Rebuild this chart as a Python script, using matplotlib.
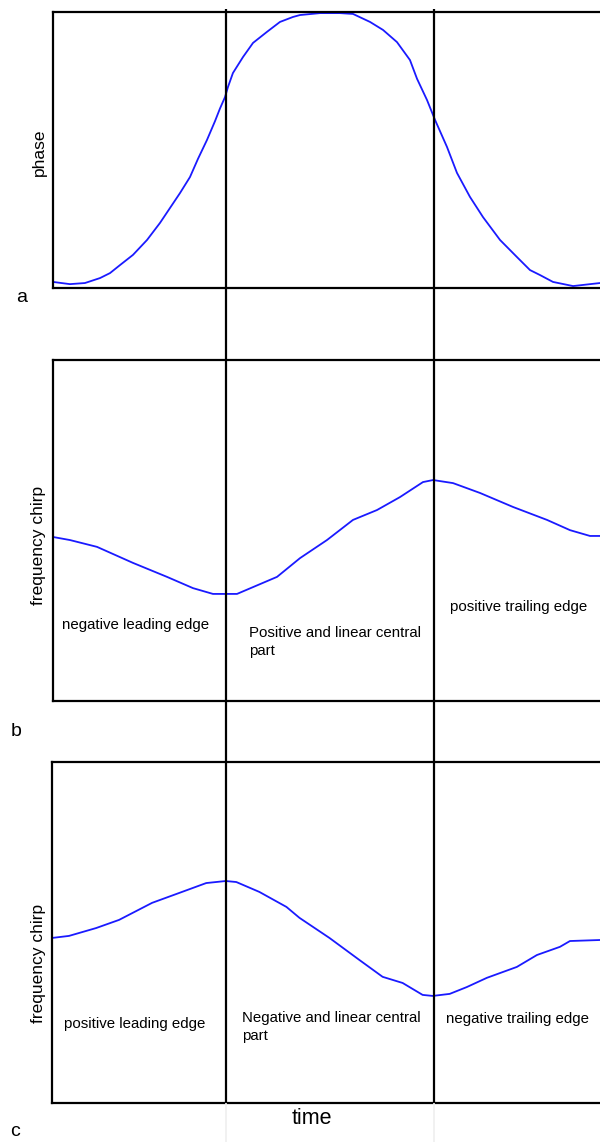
import numpy as np
import matplotlib
matplotlib.use("Agg")
import matplotlib.pyplot as plt

plt.rcParams['font.family'] = ['Liberation Sans', 'DejaVu Sans']

# time axis: pulse edges at -1 and +1
EDGES = [-1.0, 1.0]
XLIM = (-2.668, 2.668)

# (a) phase
t_phase = [-2.668, -2.505, -2.361, -2.216, -2.120, -2.024, -1.899, -1.764, -1.639, -1.543,
           -1.447, -1.351, -1.274, -1.188, -1.111, -1.063, -1.014, -0.986, -0.938, -0.841,
           -0.745, -0.611, -0.486, -0.361, -0.293, -0.101, 0.091, 0.216, 0.380, 0.505,
           0.639, 0.764, 0.832, 0.928, 1.005, 1.120, 1.216, 1.341, 1.466, 1.630,
           1.793, 1.918, 2.014, 2.139, 2.332, 2.591]
phase = [0.022, 0.014, 0.018, 0.036, 0.054, 0.083, 0.120, 0.174, 0.236, 0.290,
         0.344, 0.402, 0.468, 0.536, 0.604, 0.650, 0.692, 0.728, 0.779, 0.837,
         0.888, 0.928, 0.964, 0.982, 0.989, 0.996, 0.996, 0.993, 0.964, 0.935,
         0.891, 0.826, 0.758, 0.681, 0.609, 0.511, 0.417, 0.330, 0.257, 0.174,
         0.112, 0.065, 0.047, 0.022, 0.007, 0.018]

# (b) frequency chirp, positive central part
t_chirp_b = [-2.668, -2.505, -2.245, -1.899, -1.572, -1.322, -1.130, -1.0, -0.899, -0.745,
             -0.514, -0.293, -0.034, 0.216, 0.447, 0.668, 0.889, 0.986, 1.178, 1.438,
             1.755, 2.082, 2.303, 2.495, 2.591]
chirp_b = [0.481, 0.472, 0.452, 0.405, 0.364, 0.331, 0.314, 0.314, 0.314, 0.334,
           0.364, 0.419, 0.472, 0.531, 0.560, 0.598, 0.642, 0.648, 0.639, 0.610,
           0.569, 0.531, 0.501, 0.484, 0.484]

# (c) frequency chirp, negative central part
t_chirp_c = [-2.668, -2.505, -2.245, -2.024, -1.707, -1.447, -1.188, -1.0, -0.899, -0.678,
             -0.418, -0.293, -0.005, 0.284, 0.505, 0.697, 0.889, 0.986, 1.149, 1.313,
             1.505, 1.793, 1.986, 2.207, 2.303, 2.591]
chirp_c = [0.484, 0.490, 0.513, 0.537, 0.587, 0.616, 0.645, 0.651, 0.648, 0.619,
           0.575, 0.543, 0.484, 0.419, 0.370, 0.352, 0.317, 0.314, 0.320, 0.340,
           0.367, 0.399, 0.434, 0.458, 0.475, 0.478]

labels_b = ["negative leading edge", "Positive and linear central\npart", "positive trailing edge"]
labels_c = ["positive leading edge", "Negative and linear central\npart", "negative trailing edge"]

W, H = 600, 1142
fig = plt.figure(figsize=(6, 11.42), dpi=100)


def box(left, top, right, bottom):
    return [left / W, 1 - bottom / H, (right - left) / W, (bottom - top) / H]


ax_a = fig.add_axes(box(53, 12, 608, 288))
ax_b = fig.add_axes(box(53, 360, 608, 701))
ax_c = fig.add_axes(box(52, 762, 608, 1103))

for ax, t, y in [(ax_a, t_phase, phase), (ax_b, t_chirp_b, chirp_b), (ax_c, t_chirp_c, chirp_c)]:
    ax.plot(t, y, color='#1a1aff', lw=1.3)
    ax.set_xlim(*XLIM)
    ax.set_ylim(0, 1)
    ax.set_xticks([])
    ax.set_yticks([])
    for s in ax.spines.values():
        s.set_linewidth(1.6)

# y labels (placed where the original has them, not centred on the panels)
fig.text(39 / W, 1 - 152 / H, "phase", fontsize=12.5, rotation=90, ha='center', va='center')
fig.text(39 / W, 1 - 545 / H, "frequency chirp", fontsize=12.5, rotation=90, ha='center', va='center')
fig.text(39 / W, 1 - 963 / H, "frequency chirp", fontsize=12.5, rotation=90, ha='center', va='center')

# region labels
fs = 10.8
ax_b.text(-2.582, 0.223, labels_b[0], fontsize=fs, va='center')
ax_b.text(-0.784, 0.173, labels_b[1], fontsize=fs, va='center', linespacing=1.3)
ax_b.text(1.149, 0.276, labels_b[2], fontsize=fs, va='center')
ax_c.text(-2.553, 0.232, labels_c[0], fontsize=fs, va='center')
ax_c.text(-0.841, 0.223, labels_c[1], fontsize=fs, va='center', linespacing=1.3)
ax_c.text(1.111, 0.246, labels_c[2], fontsize=fs, va='center')

# vertical guide lines across all panels
over = fig.add_axes(box(52, 9, 608, 1103), facecolor='none')
over.set_xlim(*XLIM)
over.set_ylim(0, 1)
over.axis('off')
for e in EDGES:
    over.axvline(e, color='black', lw=1.6)

tail = fig.add_axes(box(52, 1103, 608, 1142), facecolor='none')
tail.set_xlim(*XLIM)
tail.axis('off')
for e in EDGES:
    tail.axvline(e, color='#efefef', lw=1.2)

fig.text(22 / W, 1 - 297 / H, "a", fontsize=14, ha='center', va='center')
fig.text(16 / W, 1 - 731 / H, "b", fontsize=14, ha='center', va='center')
fig.text(15 / W, 1 - 1131 / H, "c", fontsize=14, ha='center', va='center')
fig.text(312 / W, 1 - 1118 / H, "time", fontsize=15.5, ha='center', va='center')

fig.savefig("out.png", dpi=100)
